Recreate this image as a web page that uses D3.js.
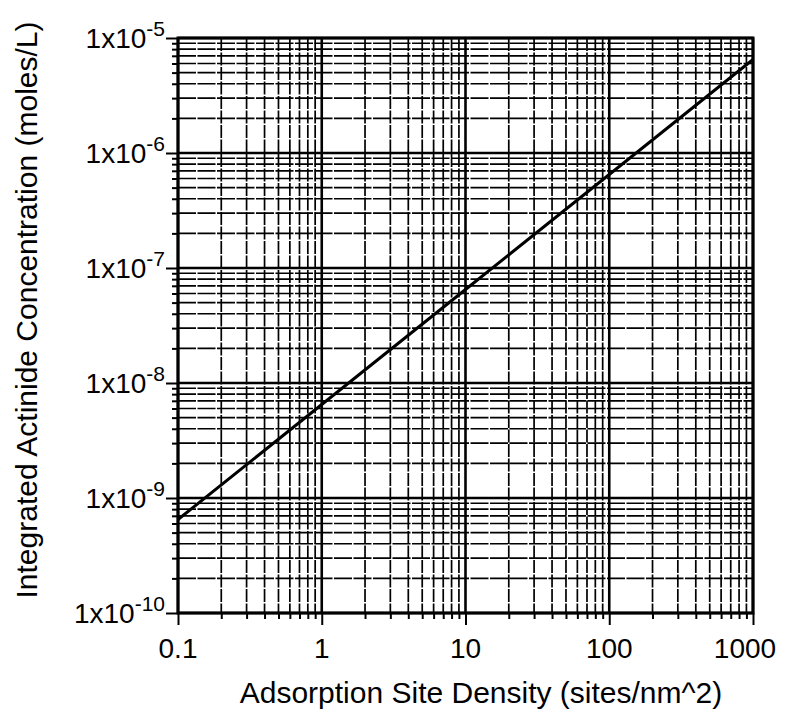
<!DOCTYPE html>
<html>
<head>
<meta charset="utf-8">
<script src="https://cdn.jsdelivr.net/npm/d3@7/dist/d3.min.js"></script>
<style>
  body { margin: 0; background: #fff; }
  text { font-family: "Liberation Sans", Arial, Helvetica, sans-serif; fill: #000; }
</style>
</head>
<body>
<svg id="chart" width="786" height="723"></svg>
<script>
// values
const siteDensity = [0.1, 1, 10, 100, 1000]
const concentration = [6.5e-10, 6.5e-9, 6.5e-8, 6.5e-7, 6.5e-6]
const xTickValues = [0.1, 1, 10, 100, 1000]
const xTickLabels = ['0.1', '1', '10', '100', '1000']
const yTickValues = [1e-10, 1e-9, 1e-8, 1e-7, 1e-6, 1e-5]
const yTickExponents = ['-10', '-9', '-8', '-7', '-6', '-5']
const xTitle = 'Adsorption Site Density (sites/nm^2)'
const yTitle = 'Integrated Actinide Concentration (moles/L)'

const margin = { top: 38, right: 33, bottom: 110, left: 178 }
const svg = d3.select('#chart')
const W = +svg.attr('width')
const H = +svg.attr('height')
const width = W - margin.left - margin.right
const height = H - margin.top - margin.bottom

const x = d3.scaleLog().domain([0.1, 1000]).range([0, width])
const y = d3.scaleLog().domain([1e-10, 1e-5]).range([height, 0])

const isMajor = d => Math.abs(Math.log10(d) - Math.round(Math.log10(d))) < 1e-6

const g = svg.append('g').attr('transform', `translate(${margin.left},${margin.top})`)

// minor + major grid (log ticks give 1..9 per decade)
const xt = x.ticks()
const yt = y.ticks()
g.append('g').selectAll('line')
  .data(xt)
  .join('line')
  .attr('x1', d => x(d)).attr('x2', d => x(d))
  .attr('y1', 0).attr('y2', height)
  .attr('stroke', '#000')
  .attr('stroke-width', d => isMajor(d) ? 2.6 : 1.7)
  .attr('stroke-dasharray', d => isMajor(d) ? null : '13,1.5')
g.append('g').selectAll('line')
  .data(yt)
  .join('line')
  .attr('y1', d => y(d)).attr('y2', d => y(d))
  .attr('x1', 0).attr('x2', width)
  .attr('stroke', '#000')
  .attr('stroke-width', d => isMajor(d) ? 2.6 : 1.7)
  .attr('stroke-dasharray', d => isMajor(d) ? null : '18,1.5')

// axes: outer ticks only, labels drawn separately
const xAxis = d3.axisBottom(x).tickValues(xt).tickSize(0).tickFormat('')
const yAxis = d3.axisLeft(y).tickValues(yt).tickSize(0).tickFormat('')
const gx = g.append('g').attr('transform', `translate(0,${height})`).call(xAxis)
const gy = g.append('g').call(yAxis)
gx.selectAll('.tick line').attr('y2', d => isMajor(d) ? 12 : 6).attr('stroke-width', 2)
gy.selectAll('.tick line').attr('x2', d => isMajor(d) ? -12 : -6).attr('stroke-width', 2)
g.selectAll('.domain').remove()

// frame
g.append('rect')
  .attr('width', width).attr('height', height)
  .attr('fill', 'none').attr('stroke', '#000').attr('stroke-width', 3)

// x tick labels
g.append('g').selectAll('text')
  .data(xTickValues)
  .join('text')
  .attr('x', (d, i) => x(d) - (i === xTickValues.length - 1 ? 8 : 0))
  .attr('y', height + 45)
  .attr('text-anchor', 'middle')
  .attr('font-size', 28)
  .text((d, i) => xTickLabels[i])

// y tick labels 1x10^n
const yl = g.append('g').selectAll('text')
  .data(yTickValues)
  .join('text')
  .attr('x', -13)
  .attr('y', d => y(d) + 10)
  .attr('text-anchor', 'end')
  .attr('font-size', 28)
yl.append('tspan').text('1x10')
yl.append('tspan')
  .attr('dy', -12)
  .attr('font-size', 21)
  .text((d, i) => yTickExponents[i])

// data line
const line = d3.line()
  .x(d => x(d[0]))
  .y(d => y(d[1]))
g.append('path')
  .datum(siteDensity.map((d, i) => [d, concentration[i]]))
  .attr('d', line)
  .attr('fill', 'none')
  .attr('stroke', '#000')
  .attr('stroke-width', 3)

// titles
svg.append('text')
  .attr('x', 481)
  .attr('y', 703)
  .attr('text-anchor', 'middle')
  .attr('font-size', 30)
  .text(xTitle)
svg.append('text')
  .attr('transform', 'translate(37,310) rotate(-90)')
  .attr('text-anchor', 'middle')
  .attr('font-size', 30)
  .text(yTitle)
</script>
</body>
</html>
